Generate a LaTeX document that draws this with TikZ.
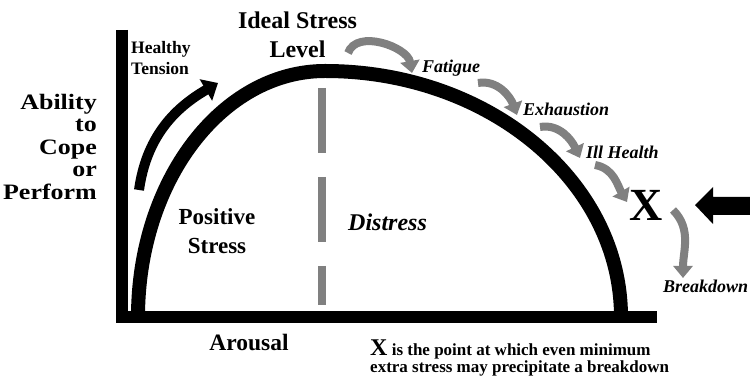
\documentclass[tikz,border=0pt]{standalone}
\usepackage{fontspec}
\setmainfont{Liberation Serif}
\newfontfamily\widefont{Liberation Serif}[FakeStretch=1.18]
\usepackage{xcolor}
\usetikzlibrary{arrows.meta}

\definecolor{midgray}{RGB}{128,128,128}
\newcommand{\fsz}[2]{\fontsize{#1}{#2}\selectfont}

\begin{document}
\begin{tikzpicture}[x=1pt,y=1pt,
    lbl/.style={inner sep=0pt},
    stage/.style={inner sep=0pt, anchor=base west, font=\bfseries\itshape\fsz{18}{20}},
    grayarrow/.style={midgray, line width=8pt, -{Triangle[length=12pt,width=19pt]}}]
    \useasboundingbox (0,0) rectangle (750,385);

    % Axes
    \draw[line width=12pt, line join=miter] (122,355) -- (122,68) -- (657,68);

    % Stress curve
    \draw[line width=14pt] (138,68) arc[start angle=180, end angle=90, x radius=187, y radius=246]
        arc[start angle=90, end angle=0, x radius=296, y radius=246];

    % Divider
    \draw[midgray, line width=8pt, dash pattern=on 65pt off 24pt] (322,297) -- (322,80);

    % Labels
    \node[lbl, anchor=north, align=center, font=\bfseries\fsz{24}{29}] (ideal) at (297.5,373) {Ideal Stress\\Level};
    \node[lbl, anchor=north west, align=left, font=\bfseries\fsz{17.5}{21}] (healthy) at (131,344) {Healthy\\Tension};
    \node[lbl, anchor=north east, align=right, font=\widefont\bfseries\fsz{22}{22.5}] (ability) at (97,291) {Ability\\to\\Cope\\or\\Perform};
    \node[lbl, anchor=north, align=center, font=\bfseries\fsz{23}{29}] (positive) at (217,177) {Positive\\Stress};
    \node[lbl, anchor=base west, font=\bfseries\itshape\fsz{24}{28}] (distress) at (348,154) {Distress};
    \node[lbl, anchor=base, font=\bfseries\fsz{23.5}{28}] (arousal) at (249,34) {Arousal};

    \node[stage] (fatigue) at (422,312) {Fatigue};
    \node[stage] (exhaust) at (523,269) {Exhaustion};
    \node[stage] (illhealth) at (586,226) {Ill Health};
    \node[stage] (breakdown) at (663,92) {Breakdown};
    \node[lbl, anchor=base, font=\bfseries\fsz{46}{50}] (xpoint) at (646,164) {X};

    \node[lbl, anchor=north west, align=left, font=\bfseries\fsz{17}{17}] (note) at (370,45)
        {{\fsz{24}{17}X} is the point at which even minimum\\extra stress may precipitate a breakdown};

    % Healthy tension arrow
    \coordinate (ht1) at (139,195);
    \coordinate (ht2) at (218,302);
    \draw[line width=10pt, -{Triangle[length=14pt,width=24pt]}] (ht1) to[out=82,in=210] (ht2);

    % Decline arrows
    \coordinate (a1) at (348,332);
    \coordinate (a2) at (412,312);
    \coordinate (b1) at (478,302);
    \coordinate (b2) at (517,270);
    \coordinate (c1) at (540,258);
    \coordinate (c2) at (580,227);
    \coordinate (d1) at (595,220);
    \coordinate (d2) at (627,183);
    \coordinate (e1) at (673,175);
    \coordinate (e2) at (683,107);
    \draw[grayarrow] (a1) to[out=70,in=100] (a2);
    \draw[grayarrow] (b1) to[out=10,in=110] (b2);
    \draw[grayarrow] (c1) to[out=10,in=115] (c2);
    \draw[grayarrow] (d1) to[out=-10,in=120] (d2);
    \draw[grayarrow] (e1) to[out=-45,in=90] (e2);

    % Pressure arrow
    \fill (750,188) -- (713,188) -- (713,198) -- (695,180) -- (713,161) -- (713,170) -- (750,170) -- cycle;
\end{tikzpicture}
\end{document}
